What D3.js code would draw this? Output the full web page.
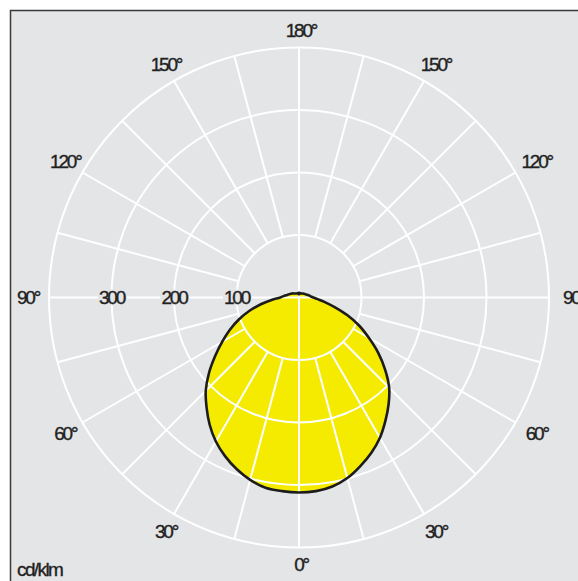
<!DOCTYPE html>
<html><head><meta charset="utf-8">
<script src="https://cdn.jsdelivr.net/npm/d3@7"></script>
<style>html,body{margin:0;padding:0;background:#fff;}svg{display:block;}</style>
</head><body>
<svg id="chart" width="578" height="581"></svg>
<script>
// Data
const angles = [0,5,10,15,20,25,30,35,40,45,50,55,60,65,70,75,80,85,90,95,100,105,110,120,135,150,165,175,180];
const rightValues = [312,311,307,299,287,274,259,241,223,204,180,155,129,106,82,59,42,30,23,19,17,15,13,11,9,7.5,7,7.5,5];
const leftValues  = [312,311,309,302,292,280,266,249,230,211,188,164,142,122,102,82,62,44,30,25,21,18,16,13,9,7.5,7,7.5,5];
const ringValues = [100,200,300,400];
const ringLabels = ["100","200","300"];
const angleLabels = [0,30,60,90,120,150,180];
const rayAngles = d3.range(0,360,15);
const unitLabel = "cd/klm";

const svg = d3.select("#chart");
const cx = 299, cy = 297.5;
const r = d3.scaleLinear().domain([0,400]).range([0,250]);
const rad = d => d*Math.PI/180;
const font = "'Liberation Sans', Arial, sans-serif";
const txtColor = "#222";

svg.append("rect").attr("x",10.5).attr("y",10.5).attr("width",620).attr("height",620)
  .attr("fill","#e4e5e7").attr("stroke","#3a3a3a").attr("stroke-width",1.5);

const g = svg.append("g").attr("transform",`translate(${cx},${cy})`);

// curve points (right side 0..180, left side back 180..0)
const pts = [];
angles.forEach((a,i)=>pts.push({a: Math.PI - rad(a), v: rightValues[i]}));
for (let i = angles.length-2; i>=1; i--) pts.push({a: Math.PI + rad(angles[i]), v: leftValues[i]});

const line = d3.lineRadial().angle(d=>d.a).radius(d=>r(d.v)).curve(d3.curveCatmullRomClosed.alpha(0.5));

g.append("path").attr("d", line(pts)).attr("fill","#f5eb00").attr("stroke","none");

// grid
const grid = g.append("g").attr("stroke","#ffffff").attr("stroke-width",2).attr("fill","none");
ringValues.forEach(v=> grid.append("circle").attr("r", r(v)));
rayAngles.forEach(a=>{
  const start = (a % 90 === 0) ? 0 : 100;
  const t = rad(a);
  grid.append("line")
    .attr("x1", r(start)*Math.sin(t)).attr("y1", r(start)*Math.cos(t))
    .attr("x2", r(400)*Math.sin(t)).attr("y2", r(400)*Math.cos(t));
});

// curve outline
g.append("path").attr("d", line(pts)).attr("fill","none").attr("stroke","#1c1c1c").attr("stroke-width",2.6);

function styleText(t, ls){
  return t.attr("font-family",font).attr("font-size",19).attr("letter-spacing",ls)
    .attr("fill",txtColor).attr("stroke",txtColor).attr("stroke-width",0.35);
}

// ring labels on left horizontal
ringLabels.forEach(lbl=>{
  const x = -r(+lbl);
  const t = styleText(g.append("text").attr("x",x).attr("y",0).attr("dy","0.36em")
    .attr("text-anchor","middle"), "-2.2").text(lbl);
  const bb = t.node().getBBox();
  g.insert("rect", () => t.node()).attr("x",bb.x-1).attr("y",-8).attr("width",bb.width+2).attr("height",16).attr("fill","#e4e5e7");
});

// angle labels
angleLabels.forEach(a=>{
  const t = rad(a);
  const rr = 267 + 6*Math.abs(Math.sin(t));
  const sides = (a===0||a===180) ? [1] : [-1,1];
  sides.forEach(s=>{
    styleText(g.append("text").attr("x", s*rr*Math.sin(t)+2).attr("y", rr*Math.cos(t)).attr("dy","0.36em")
      .attr("text-anchor","middle"), "-2.2").text(a+"°");
  });
});

styleText(svg.append("text").attr("x",17).attr("y",576), "-1.6").text(unitLabel);
</script>
</body></html>
